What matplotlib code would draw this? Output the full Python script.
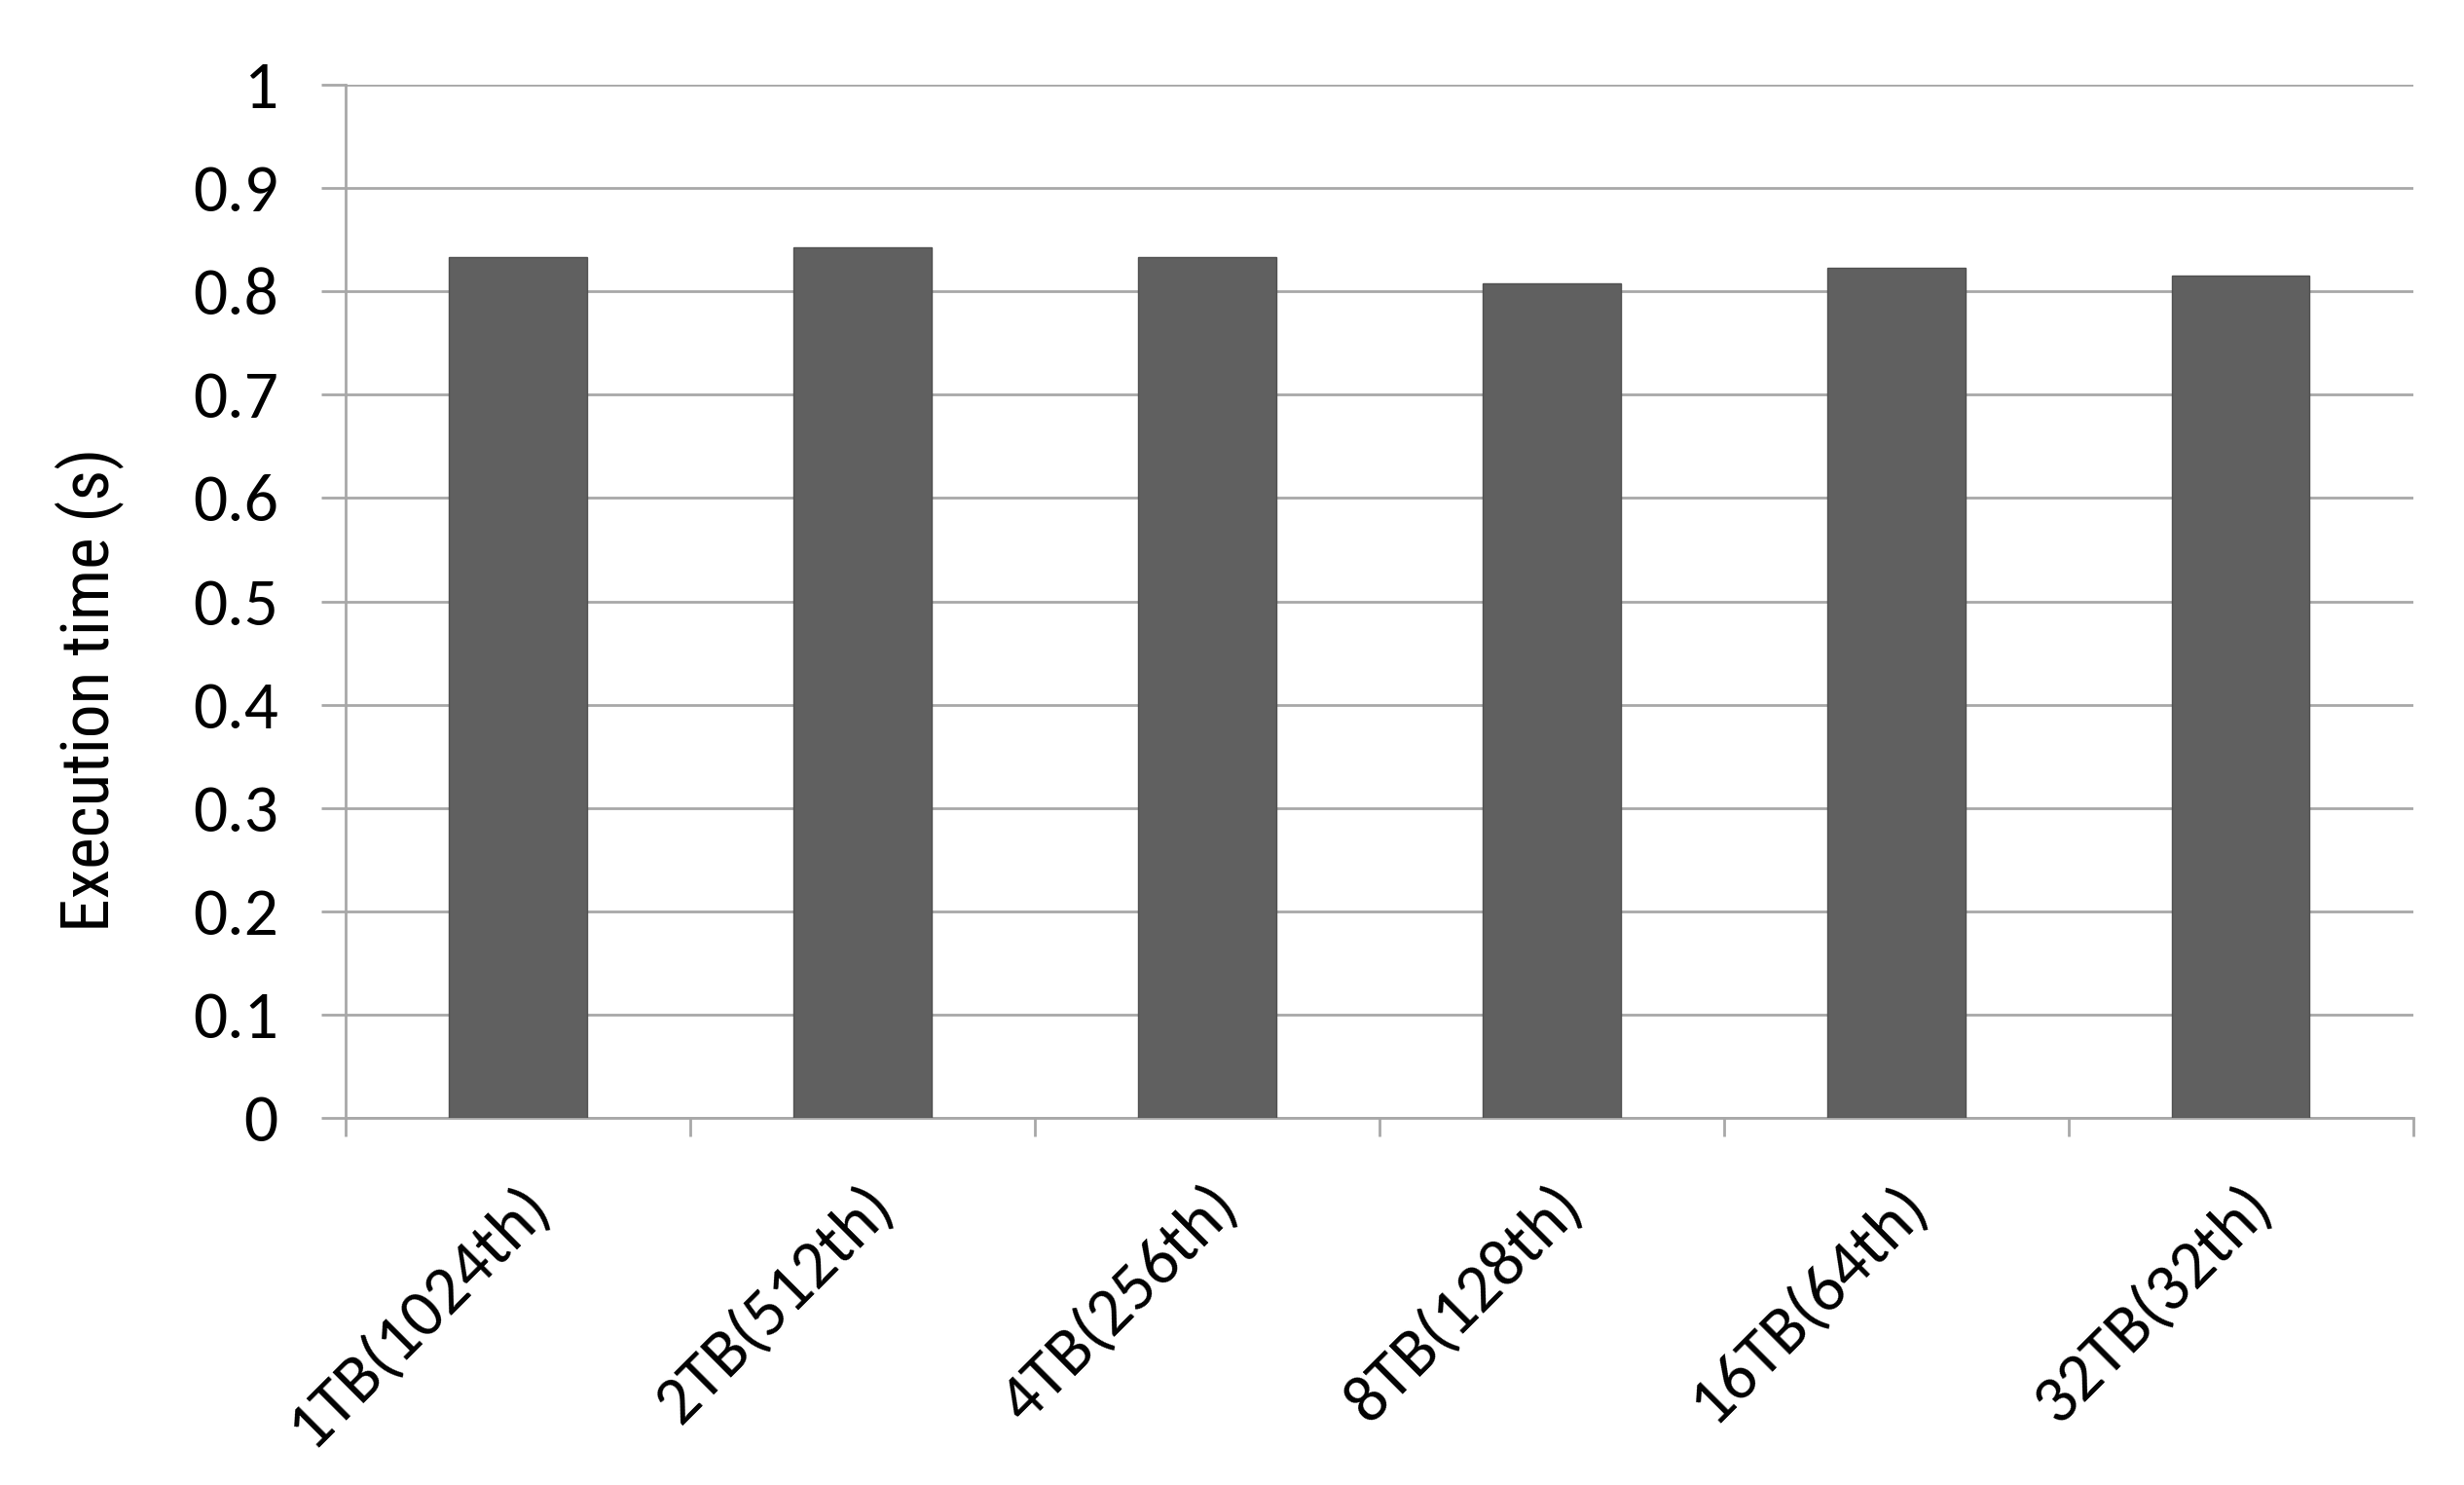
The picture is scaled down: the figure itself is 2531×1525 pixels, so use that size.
import numpy as np
import matplotlib.pyplot as plt

categories = ["1TB(1024th)", "2TB(512th)", "4TB(256th)", "8TB(128th)", "16TB(64th)", "32TB(32th)"]
exec_time = [0.833, 0.843, 0.833, 0.808, 0.823, 0.815]
yticks = [0, 0.1, 0.2, 0.3, 0.4, 0.5, 0.6, 0.7, 0.8, 0.9, 1]
ytick_labels = ["0", "0.1", "0.2", "0.3", "0.4", "0.5", "0.6", "0.7", "0.8", "0.9", "1"]

grid_color = "#a8a8a8"

fig = plt.figure(figsize=(25.31, 15.25), dpi=100)
ax = fig.add_axes([0.1403, 0.247, 0.839, 0.696])

x = np.arange(len(categories))
ax.bar(x, exec_time, width=0.4, color="#606060", edgecolor="#505050", linewidth=1, zorder=3)

ax.set_xlim(-0.5, len(categories) - 0.5)
ax.set_ylim(0, 1)

ax.set_yticks(yticks)
ax.set_yticklabels(ytick_labels, family="Carlito", fontsize=50)
ax.yaxis.grid(True, color=grid_color, linewidth=2, zorder=0)
ax.tick_params(axis="y", length=18, width=2, color=grid_color, pad=32)

# tick marks on category boundaries, labels at centers
ax.set_xticks(np.arange(len(categories) + 1) - 0.5)
ax.set_xticklabels([])
ax.tick_params(axis="x", which="major", length=14, width=2, color=grid_color)
ax.set_xticks(x, minor=True)
ax.set_xticklabels(categories, minor=True, family="Carlito", fontsize=50,
                   rotation=45, ha="right", rotation_mode="anchor")
ax.tick_params(axis="x", which="minor", length=0, pad=42)

for s in ["top", "right"]:
    ax.spines[s].set_visible(False)
for s in ["left", "bottom"]:
    ax.spines[s].set_color(grid_color)
    ax.spines[s].set_linewidth(2)

fig.text(0.0362, 0.5355, "Execution time (s)", family="Roboto Condensed", fontsize=50,
         rotation=90, ha="center", va="center")

fig.savefig("out.png", dpi=100, facecolor="white")
